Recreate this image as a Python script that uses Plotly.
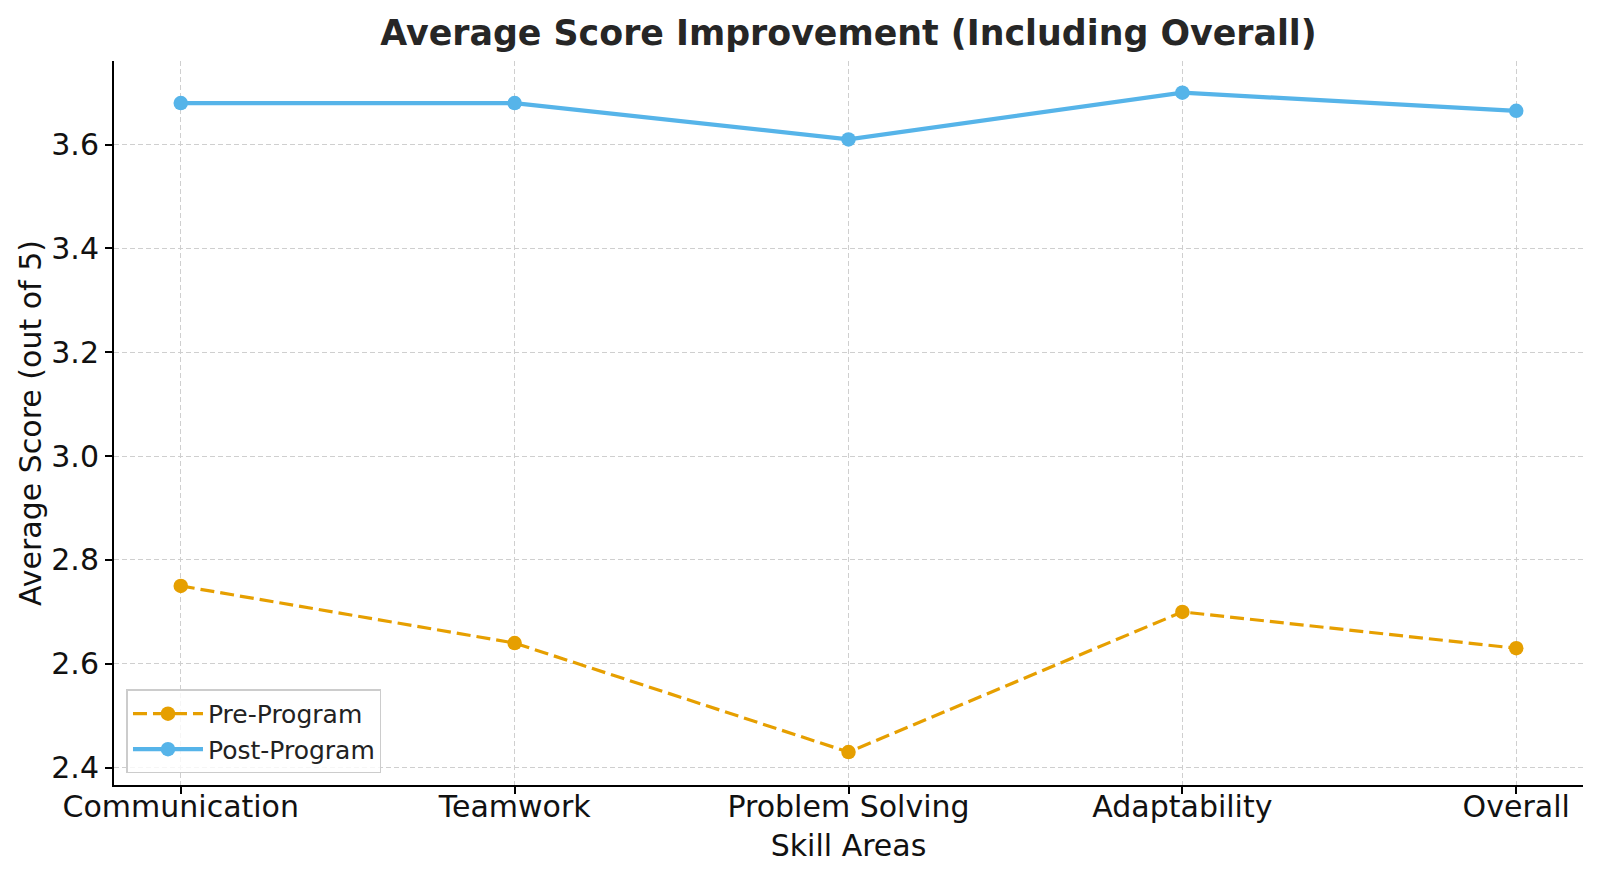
import plotly.graph_objects as go

categories = ["Communication", "Teamwork", "Problem Solving", "Adaptability", "Overall"]
pre_program = [2.75, 2.64, 2.43, 2.70, 2.63]
post_program = [3.68, 3.68, 3.61, 3.70, 3.665]
y_ticks = [2.4, 2.6, 2.8, 3.0, 3.2, 3.4, 3.6]

FONT = "DejaVu Sans"
x_idx = list(range(len(categories)))

fig = go.Figure()
fig.add_trace(go.Scatter(
    x=x_idx, y=pre_program, mode="lines+markers", name="Pre-Program",
    line=dict(color="#E69F00", width=3.2, dash="14px,6px"),
    marker=dict(color="#E69F00", size=14.5),
))
fig.add_trace(go.Scatter(
    x=x_idx, y=post_program, mode="lines+markers", name="Post-Program",
    line=dict(color="#56B4E9", width=4.2),
    marker=dict(color="#56B4E9", size=14.5),
))

grid = dict(showgrid=True, gridcolor="#cfcfcf", griddash="5px,3px", gridwidth=1.2)

fig.update_layout(
    template="none",
    width=1600, height=881,
    paper_bgcolor="white", plot_bgcolor="white",
    margin=dict(l=114, r=17, t=61, b=96, autoexpand=False),
    font=dict(family=FONT, size=30, color="#111111"),
    title=dict(text="<b>Average Score Improvement (Including Overall)</b>",
               xref="paper", x=0.5, xanchor="center",
               yref="container", y=0.963, yanchor="middle",
               font=dict(family=FONT, size=34.8, color="#262626")),
    xaxis=dict(
        tickmode="array", tickvals=x_idx, ticktext=categories,
        range=[-0.2, 4.2],
        showline=True, linecolor="black", linewidth=2,
        ticks="outside", ticklen=7, tickwidth=1.6, tickcolor="black",
        zeroline=False, automargin=False,
        ticklabelstandoff=-13,
        title=dict(text="Skill Areas", font=dict(family=FONT, size=30), standoff=12),
        tickfont=dict(family=FONT, size=30, color="#111111"),
        **grid,
    ),
    yaxis=dict(
        tickmode="array", tickvals=y_ticks, ticktext=[f"{v:.1f}" for v in y_ticks],
        range=[2.3666, 3.761],
        showline=True, linecolor="black", linewidth=2,
        ticks="outside", ticklen=7, tickwidth=1.6, tickcolor="black",
        zeroline=False, automargin=False,
        title=dict(text="Average Score (out of 5)", font=dict(family=FONT, size=30), standoff=1),
        tickfont=dict(family=FONT, size=30, color="#111111"),
        **grid,
    ),
    legend=dict(
        x=0.0085, y=0.016, xanchor="left", yanchor="bottom",
        bgcolor="rgba(255,255,255,0.8)", bordercolor="#cccccc", borderwidth=1.5,
        font=dict(family=FONT, size=25, color="#222222"),
        itemwidth=70, tracegroupgap=0,
    ),
    showlegend=True,
)

fig.write_html(
    "out.html",
    config={"displayModeBar": False},
    post_script="document.body.style.margin='0';document.body.style.overflow='hidden';",
)
